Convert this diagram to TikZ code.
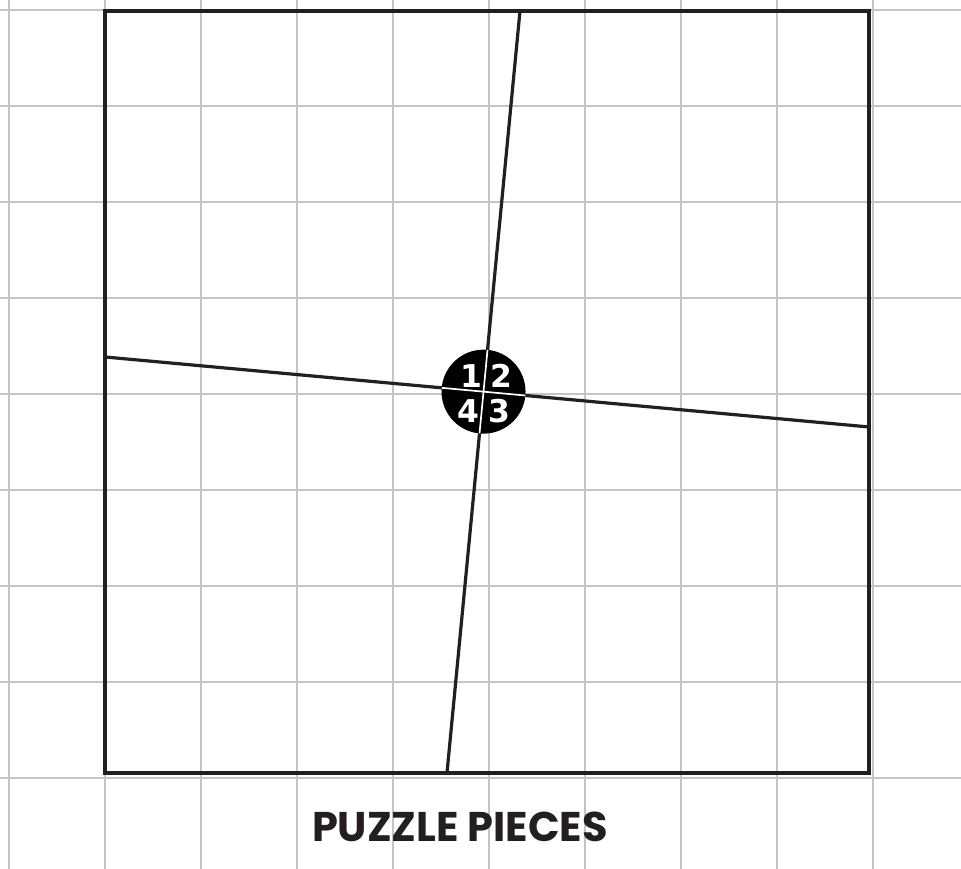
\documentclass[tikz,border=0pt]{standalone}
\usepackage{fontspec}
\newfontfamily\titlefont{Poppins}
\newfontfamily\digitfont{DejaVu Sans}
\usetikzlibrary{calc}
\definecolor{inkblack}{HTML}{231F20}
\definecolor{gridgray}{HTML}{C4C4C4}
\tikzset{
  every picture/.style={line cap=butt, line join=miter},
  gridline/.style={gridgray, line width=0.35pt},
  board/.style={inkblack, line width=1.05pt},
  cut/.style={inkblack, line width=0.95pt},
  hubcut/.style={white, line width=0.5pt},
  piecenum/.style={white, font=\digitfont\bfseries\fontsize{9.3}{10}\selectfont, inner sep=0pt},
  title/.style={inkblack, font=\titlefont\bfseries\fontsize{12.3}{14}\selectfont},
}
\begin{document}
\begin{tikzpicture}
  \useasboundingbox (-0.094,-0.948) rectangle (9.917,8.104);
  % background grid
  \foreach \i in {0,...,9}
    \draw[gridline] (\i,-0.948) -- (\i,8.104);
  \foreach \j in {0,...,8}
    \draw[gridline] (-0.094,\j) -- (9.917,\j);
  % the board
  \draw[board] (1.0,0.052) rectangle (8.958,7.99);
  % ends of the two cuts
  \coordinate (topend) at (5.323,7.99);
  \coordinate (botend) at (4.5625,0.052);
  \coordinate (leftend) at (1.0,4.385);
  \coordinate (rightend) at (8.958,3.656);
  \coordinate (X) at (intersection of topend--botend and leftend--rightend);
  \draw[cut] (topend) -- (botend);
  \draw[cut] (leftend) -- (rightend);
  % centre disc with the piece numbers
  \node[circle, fill=black, minimum size=0.875cm, inner sep=0pt] (hub) at (X) {};
  \begin{scope}
    \clip (X) circle (0.437);
    \draw[hubcut] (topend) -- (botend);
    \draw[hubcut] (leftend) -- (rightend);
  \end{scope}
  \node[piecenum] (p1) at ($(X)+(-0.125,0.165)$) {1};
  \node[piecenum] (p2) at ($(X)+(0.185,0.165)$) {2};
  \node[piecenum] (p4) at ($(X)+(-0.155,-0.2)$) {4};
  \node[piecenum] (p3) at ($(X)+(0.17,-0.2)$) {3};
  \node[title] (caption) at (4.698,-0.51) {PUZZLE PIECES};
\end{tikzpicture}
\end{document}
